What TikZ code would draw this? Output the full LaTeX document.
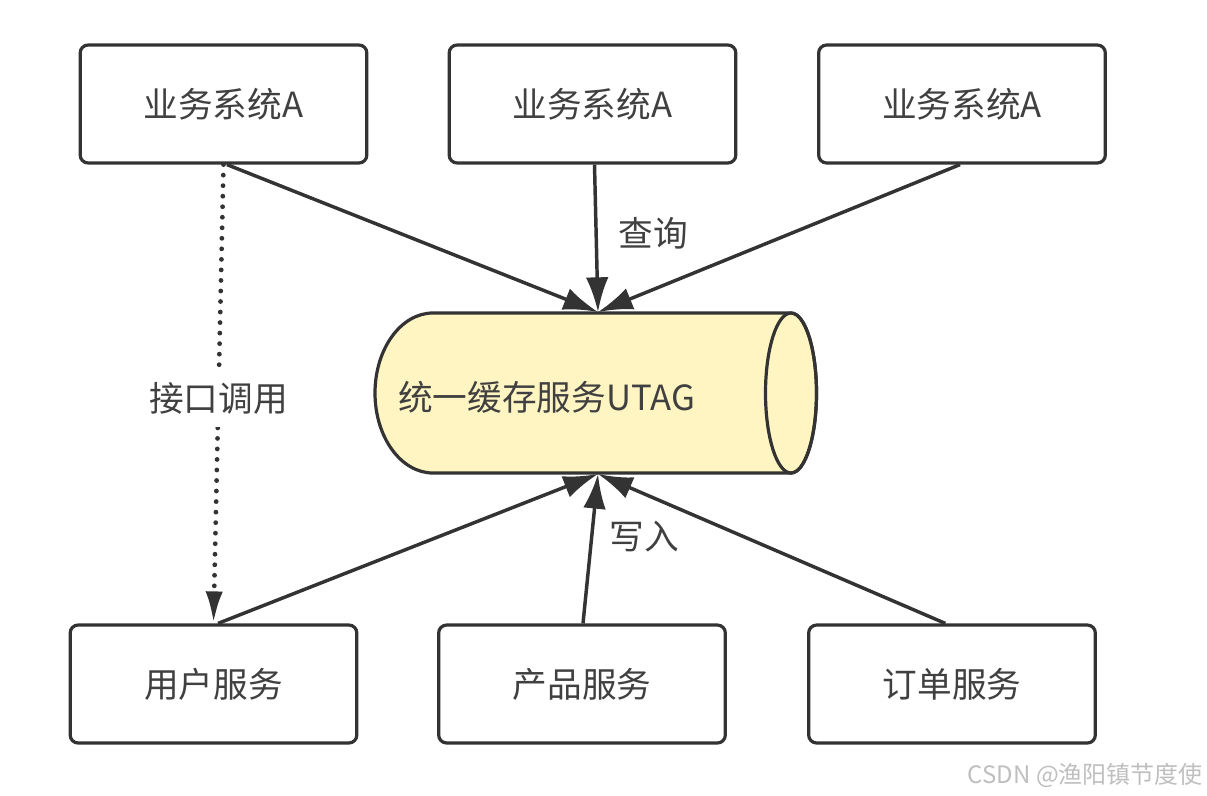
\documentclass[tikz,border=0pt]{standalone}
\usepackage{fontspec}
\newfontfamily\cjk{Noto Sans CJK SC}
\usetikzlibrary{arrows.meta,calc}
\definecolor{ln}{HTML}{333333}
\definecolor{tx}{HTML}{404040}
\definecolor{cylfill}{HTML}{FFF5C2}
\begin{document}
\begin{tikzpicture}[x=0.75pt,y=-0.75pt,
  box/.style={draw=ln,line width=2.4pt,rounded corners=6pt,minimum width=215pt,minimum height=88.5pt,inner sep=0pt,font=\cjk\fontsize{26}{30}\selectfont,text=tx},
  lbl/.style={inner sep=0pt,font=\cjk\fontsize{26}{30}\selectfont,text=tx},
  conn/.style={draw=ln,line width=2.6pt,-{Latex[length=26pt,width=17pt]}},
  dotline/.style={draw=ln,line width=3.6pt,line cap=round,dash pattern=on 0pt off 7.9pt,-{Latex[length=24pt,width=13pt]}}]
\path[use as bounding box] (0,0) rectangle (1207,796);
\fill[white] (0,0) rectangle (1207,796);

% boxes
\node[box] (a1) at (223.5,104) {业务系统A};
\node[box] (a2) at (592.5,104) {业务系统A};
\node[box] (a3) at (962,104) {业务系统A};
\node[box] (u) at (213.5,684) {用户服务};
\node[box] (p) at (582,684) {产品服务};
\node[box] (o) at (952,684) {订单服务};

% cylinder
\draw[ln,line width=2.4pt,fill=cylfill] (433,313) arc[start angle=-90,end angle=-270,x radius=58,y radius=80]
  -- (791,473) arc[start angle=90,end angle=-90,x radius=25.5,y radius=80] -- cycle;
\draw[ln,line width=2.4pt] (791,393) ellipse[x radius=25.5,y radius=80];
\node[lbl,anchor=west] (cyl) at (398,397) {统一缓存服务UTAG};
\coordinate (ct) at (598,312);
\coordinate (cb) at (598,474);

% arrows top
\draw[conn] ([xshift=2.6pt]a1.south) -- (ct);
\draw[conn] ([xshift=1.5pt]a2.south) -- (ct);
\draw[conn] ([xshift=-1.5pt]a3.south) -- (ct);
\node[lbl] (q) at (653,233) {查询};

% arrows bottom
\draw[conn] ([xshift=3.4pt]u.north) -- (cb);
\draw[conn] ([xshift=0.75pt]p.north) -- (cb);
\draw[conn] ([xshift=-5pt]o.north) -- (cb);
\node[lbl] (w) at (644,537) {写入};

% dotted
\draw[dotline] (a1.south) -- (u.north) node[pos=0.51,fill=white,inner xsep=2pt,inner ysep=9pt,font=\cjk\fontsize{26}{30}\selectfont,text=tx] (call) {接口调用};

% watermark
\node[anchor=east,inner sep=0pt,text=black!25,font=\cjk\fontsize{18}{20}\selectfont] (wm) at (1203,775) {CSDN @渔阳镇节度使};
\end{tikzpicture}
\end{document}
